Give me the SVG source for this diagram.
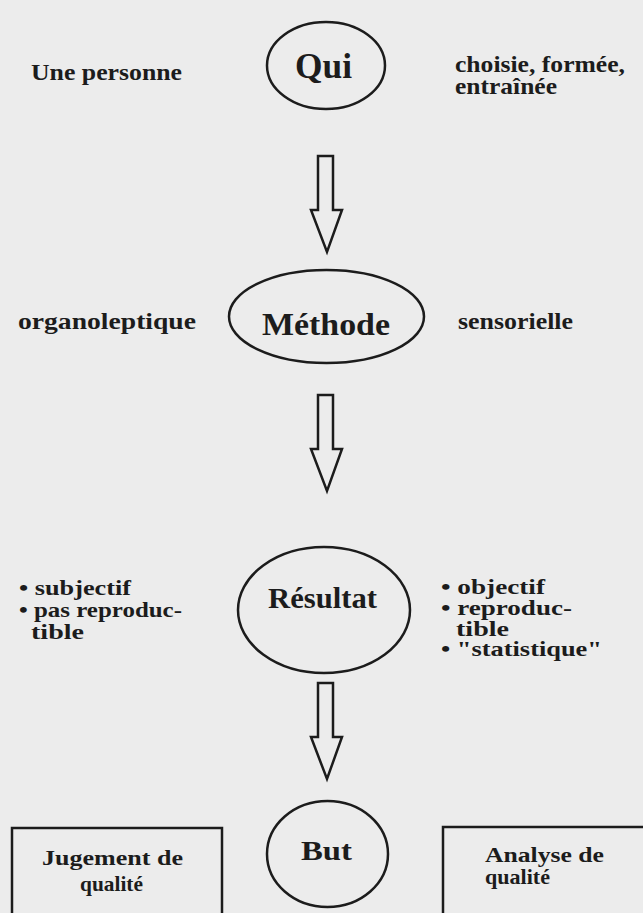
<svg xmlns="http://www.w3.org/2000/svg" width="643" height="913" viewBox="0 0 643 913">
<style>
  .bg { fill: #ececec; }
  .shape { fill: none; stroke: #1c1c1c; stroke-width: 2.5; }
  .t { font-family: "Liberation Serif", "Times New Roman", serif; font-weight: bold; fill: #1c1c1c; }
  .sm { font-size: 24px; }
  .ls { font-size: 22px; }
</style>
<defs>
  <path id="arrow" d="M0,0 H15 V54 H24 L9,96 L-7,54 H0 Z"/>
</defs>
<rect class="bg" x="0" y="0" width="643" height="913"/>

<g id="connectors">
  <use href="#arrow" class="shape" transform="translate(318,156)"/>
  <use href="#arrow" class="shape" transform="translate(318,395)"/>
  <use href="#arrow" class="shape" transform="translate(318,683)"/>
</g>

<g id="qui">
  <ellipse class="shape" cx="326" cy="65.5" rx="59" ry="43.5"/>
  <text class="t" x="295" y="78" font-size="35" textLength="57" lengthAdjust="spacingAndGlyphs">Qui</text>
</g>
<g id="une-personne">
  <text class="t sm" x="31" y="80" textLength="151" lengthAdjust="spacingAndGlyphs">Une personne</text>
</g>
<g id="choisie">
  <text class="t sm"><tspan x="455" y="72" textLength="170" lengthAdjust="spacingAndGlyphs">choisie, formée,</tspan><tspan x="455" y="94" textLength="102" lengthAdjust="spacingAndGlyphs">entraînée</tspan></text>
</g>

<g id="methode">
  <ellipse class="shape" cx="326.5" cy="316.5" rx="97.5" ry="46.5"/>
  <text class="t" x="262" y="335" font-size="32" textLength="128" lengthAdjust="spacingAndGlyphs">Méthode</text>
</g>
<g id="organoleptique">
  <text class="t sm" x="18" y="329" textLength="178" lengthAdjust="spacingAndGlyphs">organoleptique</text>
</g>
<g id="sensorielle">
  <text class="t sm" x="458" y="329" textLength="115" lengthAdjust="spacingAndGlyphs">sensorielle</text>
</g>

<g id="resultat">
  <ellipse class="shape" cx="324" cy="610" rx="86" ry="63"/>
  <text class="t" x="268" y="608" font-size="30" textLength="109" lengthAdjust="spacingAndGlyphs">Résultat</text>
</g>
<g id="subjectif">
  <text class="t ls"><tspan x="19" y="595" textLength="112" lengthAdjust="spacingAndGlyphs">• subjectif</tspan><tspan x="19" y="617" textLength="163" lengthAdjust="spacingAndGlyphs">• pas reproduc-</tspan><tspan x="31" y="639" textLength="53" lengthAdjust="spacingAndGlyphs">tible</tspan></text>
</g>
<g id="objectif">
  <text class="t ls"><tspan x="441" y="594" textLength="104" lengthAdjust="spacingAndGlyphs">• objectif</tspan><tspan x="441" y="615" textLength="131" lengthAdjust="spacingAndGlyphs">• reproduc-</tspan><tspan x="456" y="636" textLength="53" lengthAdjust="spacingAndGlyphs">tible</tspan><tspan x="441" y="656" textLength="161" lengthAdjust="spacingAndGlyphs">• "statistique"</tspan></text>
</g>

<g id="but">
  <ellipse class="shape" cx="327.5" cy="854" rx="60.5" ry="53"/>
  <text class="t" x="301" y="860" font-size="28" textLength="51" lengthAdjust="spacingAndGlyphs">But</text>
</g>
<g id="jugement">
  <rect class="shape" x="12" y="828" width="210" height="100"/>
  <text class="t ls"><tspan x="42" y="865" textLength="141" lengthAdjust="spacingAndGlyphs">Jugement de</tspan><tspan x="80" y="891" textLength="63" lengthAdjust="spacingAndGlyphs">qualité</tspan></text>
</g>
<g id="analyse">
  <rect class="shape" x="443" y="827" width="220" height="100"/>
  <text class="t ls"><tspan x="485" y="862" textLength="119" lengthAdjust="spacingAndGlyphs">Analyse de</tspan><tspan x="485" y="884" textLength="65" lengthAdjust="spacingAndGlyphs">qualité</tspan></text>
</g>
</svg>
